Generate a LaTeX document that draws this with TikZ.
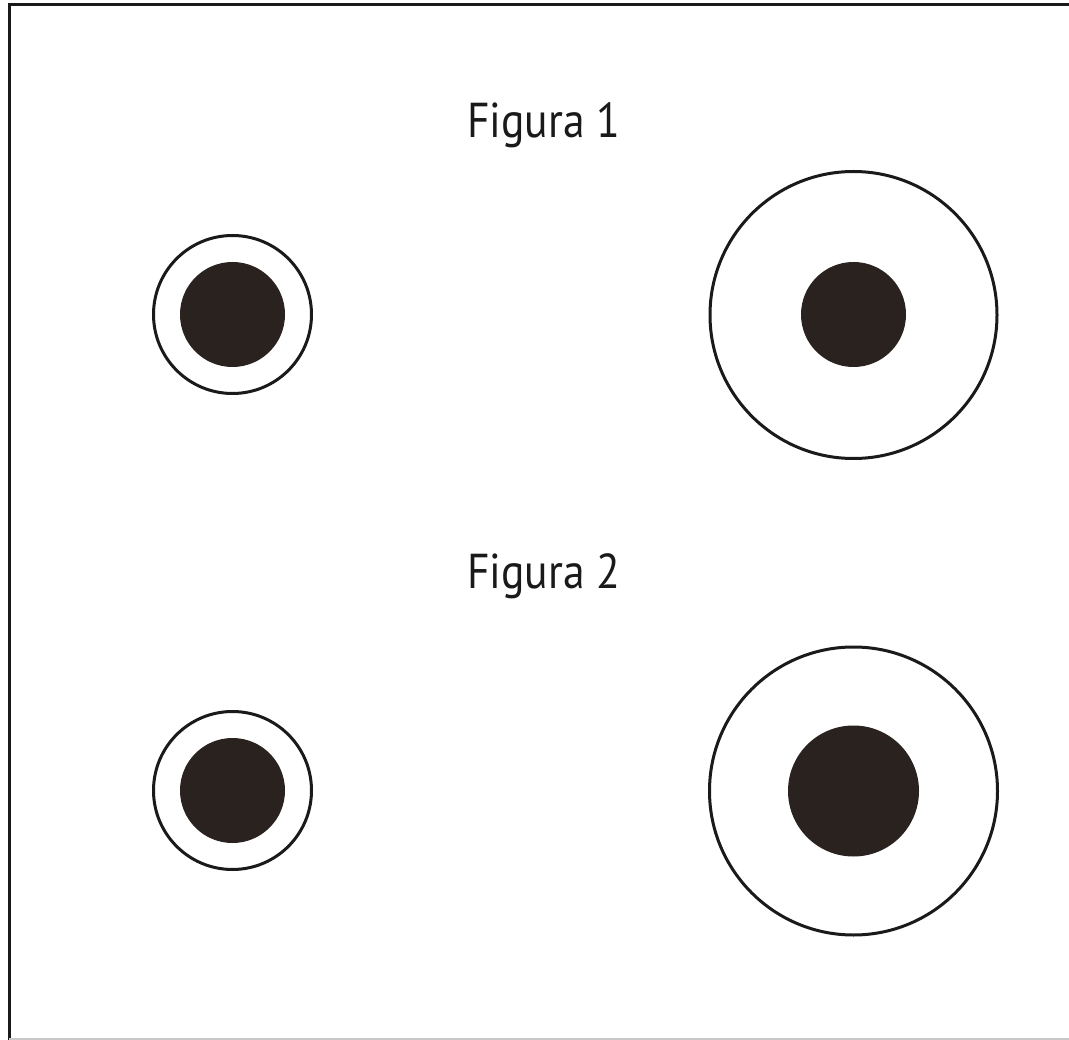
\documentclass[tikz,border=0pt]{standalone}
\usepackage{fontspec}
\newfontfamily\labelfont{PT Sans}
\definecolor{ink}{HTML}{1A1A1A}
\definecolor{dot}{HTML}{2A221F}
\definecolor{edge}{HTML}{C8C8C8}
\begin{document}
\begin{tikzpicture}[x=1pt,y=-1pt,
  ring/.style={draw=ink,line width=3pt,fill=none},
  core/.style={fill=dot,draw=none},
  caption/.style={font=\labelfont\fontsize{49}{54}\selectfont,text=ink,anchor=base west,inner sep=0pt,xscale=0.89,transform shape}]
\useasboundingbox (0,0) rectangle (1069,1040);
\fill[white] (0,0) rectangle (1069,1040);
% frame
\draw[ink,line width=3pt] (1069,5) -- (9,5) -- (9,1040);
\draw[edge,line width=1.5pt] (9,1039) -- (1069,1039);
% captions
\node[caption] (fig1) at (467,138) {Figura 1};
\node[caption] (fig2) at (467,588) {Figura 2};
% figure 1
\draw[ring] (232.5,314.5) circle (79);
\fill[core] (232.5,314.5) circle (52.5);
\draw[ring] (853.5,315) circle (143.5);
\fill[core] (853.5,314.5) circle (52.5);
% figure 2
\draw[ring] (232.5,790.5) circle (79);
\fill[core] (232.5,790.5) circle (52.5);
\draw[ring] (853.5,791) circle (144);
\fill[core] (853.5,791) circle (65.5);
\end{tikzpicture}
\end{document}
